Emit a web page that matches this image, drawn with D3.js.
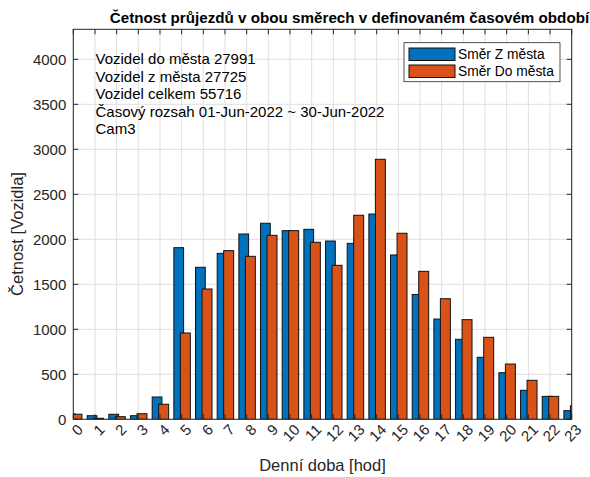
<!DOCTYPE html>
<html>
<head>
<meta charset="utf-8">
<script src="https://cdn.jsdelivr.net/npm/d3@7"></script>
<style>
  body { margin: 0; background: #fff; }
  svg { font-family: "Liberation Sans", Arial, sans-serif; }
</style>
</head>
<body>
<div class="canva"></div>
<script>
// hodiny 0..23
const hours = d3.range(0, 24);
// Směr Z města (modrá)
const zMesta = [60, 40, 56, 40, 248, 1907, 1689, 1844, 2059, 2178, 2096, 2111,
                1981, 1955, 2281, 1826, 1387, 1114, 889, 689, 518, 322, 255, 96];
// Směr Do města (oranžová)
const doMesta = [56, 11, 29, 62, 167, 959, 1448, 1874, 1811, 2044, 2096, 1967,
                 1711, 2267, 2889, 2067, 1644, 1340, 1107, 911, 614, 433, 255, 150];
const yTicks = d3.range(0, 4001, 500);
const seriesNames = ["Směr Z města", "Směr Do města"];
const infoLines = ["Vozidel do města 27991", "Vozidel z města 27725", "Vozidel celkem 55716",
                   "Časový rozsah 01-Jun-2022 ~ 30-Jun-2022", "Cam3"];

const width = 590, height = 477;
const mLeft = 73.3, mRight = 571.7, mTop = 29.3, mBottom = 419.3;

const svg = d3.select(".canva").append("svg")
    .attr("width", width)
    .attr("height", height);

const x = d3.scaleLinear().domain([0, 23]).range([mLeft, mRight]);
const y = d3.scaleLinear().domain([0, d3.max(doMesta) * 1.5]).range([mBottom, mTop]);

svg.append("clipPath").attr("id", "plot")
  .append("rect").attr("x", mLeft).attr("y", mTop)
    .attr("width", mRight - mLeft).attr("height", mBottom - mTop);

// grid
const grid = svg.append("g").attr("stroke", "#dfdfdf").attr("stroke-width", 1);
grid.selectAll(".gx").data(hours).enter().append("line")
    .attr("x1", d => x(d)).attr("x2", d => x(d))
    .attr("y1", mTop).attr("y2", mBottom);
grid.selectAll(".gy").data(yTicks).enter().append("line")
    .attr("x1", mLeft).attr("x2", mRight)
    .attr("y1", d => y(d)).attr("y2", d => y(d));

// bars
const bars = svg.append("g").attr("clip-path", "url(#plot)");
hours.forEach(h => {
  bars.append("rect")
      .attr("x", x(h - 0.36)).attr("width", x(h + 0.09) - x(h - 0.36))
      .attr("y", y(zMesta[h])).attr("height", y(0) - y(zMesta[h]))
      .attr("fill", "#0072BD").attr("stroke", "#111").attr("stroke-width", 1);
  bars.append("rect")
      .attr("x", x(h - 0.06)).attr("width", x(h + 0.4) - x(h - 0.06))
      .attr("y", y(doMesta[h])).attr("height", y(0) - y(doMesta[h]))
      .attr("fill", "#D95319").attr("stroke", "#111").attr("stroke-width", 1);
});

// axes box + ticks
const ax = svg.append("g").attr("stroke", "#262626").attr("stroke-width", 1);
ax.append("rect").attr("x", mLeft).attr("y", mTop)
    .attr("width", mRight - mLeft).attr("height", mBottom - mTop).attr("fill", "none");
hours.forEach(h => {
  ax.append("line").attr("x1", x(h)).attr("x2", x(h)).attr("y1", mBottom).attr("y2", mBottom - 5);
  ax.append("line").attr("x1", x(h)).attr("x2", x(h)).attr("y1", mTop).attr("y2", mTop + 5);
});
yTicks.forEach(v => {
  ax.append("line").attr("x1", mLeft).attr("x2", mLeft + 5).attr("y1", y(v)).attr("y2", y(v));
  ax.append("line").attr("x1", mRight).attr("x2", mRight - 5).attr("y1", y(v)).attr("y2", y(v));
});

// tick labels
svg.selectAll(".yl").data(yTicks).enter().append("text")
    .attr("x", mLeft - 7).attr("y", d => y(d)).attr("dy", "0.35em")
    .attr("text-anchor", "end").attr("font-size", 15).attr("fill", "#262626")
    .text(d => d);
svg.selectAll(".xl").data(hours).enter().append("text")
    .attr("transform", d => `translate(${x(d) + 7},427) rotate(-45)`)
    .attr("dy", "0.35em").attr("text-anchor", "end")
    .attr("font-size", 15).attr("fill", "#262626")
    .text(d => d);

// labels
svg.append("text").attr("x", (mLeft + mRight) / 2).attr("y", 471)
    .attr("text-anchor", "middle").attr("font-size", 16.5).attr("fill", "#262626")
    .text("Denní doba [hod]");
svg.append("text").attr("transform", `translate(23,234) rotate(-90)`)
    .attr("text-anchor", "middle").attr("font-size", 16.5).attr("fill", "#262626")
    .text("Četnost [Vozidla]");
svg.append("text").attr("x", 349.5).attr("y", 23)
    .attr("text-anchor", "middle").attr("font-size", 15.2).attr("font-weight", "bold")
    .attr("fill", "#000")
    .text("Četnost průjezdů v obou směrech v definovaném časovém období");

// info text
svg.selectAll(".info").data(infoLines).enter().append("text")
    .attr("x", 95.5).attr("y", (d, i) => 64 + i * 17.5)
    .attr("font-size", 15).attr("fill", "#000")
    .text(d => d);

// legend
const lg = svg.append("g");
lg.append("rect").attr("x", 404).attr("y", 42.7).attr("width", 156).attr("height", 39)
    .attr("fill", "#fff").attr("stroke", "#262626").attr("stroke-width", 0.8);
const legColors = ["#0072BD", "#D95319"];
seriesNames.forEach((name, i) => {
  lg.append("rect").attr("x", 409).attr("y", 48 + i * 17).attr("width", 46).attr("height", 12.5)
      .attr("fill", legColors[i]).attr("stroke", "#111").attr("stroke-width", 1);
  lg.append("text").attr("x", 458).attr("y", 54.3 + i * 17).attr("dy", "0.35em")
      .attr("font-size", 13.8).attr("fill", "#000").text(name);
});
</script>
</body>
</html>
